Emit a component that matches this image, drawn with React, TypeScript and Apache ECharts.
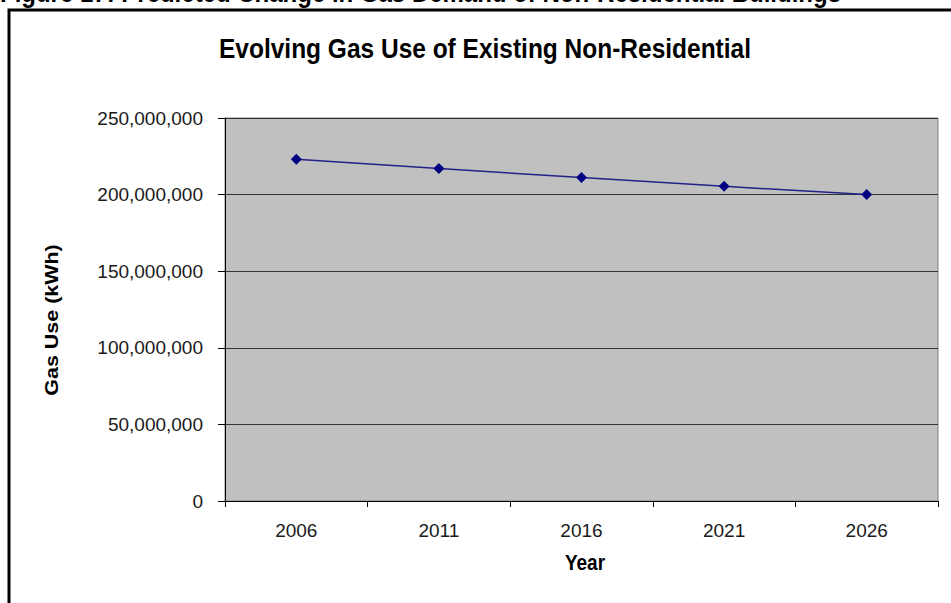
import React, { useEffect, useRef } from "react";
import * as echarts from "echarts";

const years = ["2006", "2011", "2016", "2021", "2026"];
const gasUseKWh = [223000000, 217000000, 211100000, 205400000, 200000000];
const yTicks = { min: 0, max: 250000000, step: 50000000 };

const chartTitle = "Evolving Gas Use of Existing Non-Residential";
const figureCaption = "Figure 17: Predicted Change in Gas Demand of Non-Residential Buildings";
const yAxisName = "Gas Use (kWh)";
const xAxisName = "Year";

const FONT = "'Liberation Sans', Arial, sans-serif";
// Text in this figure is drawn slightly taller than wide
const STRETCH = 1.13;

const formatThousands = (v: number) =>
  String(Math.round(v)).replace(/\B(?=(\d{3})+(?!\d))/g, ",");

export default function App() {
  const ref = useRef<HTMLDivElement>(null);

  useEffect(() => {
    if (!ref.current) return;
    const chart = echarts.init(ref.current, undefined, { renderer: "svg" });
    chart.setOption({
      animation: false,
      backgroundColor: "#ffffff",
      grid: {
        left: 225,
        right: 13,
        top: 118,
        bottom: 102,
        show: true,
        backgroundColor: "#C0C0C0",
        borderColor: "#808080",
        borderWidth: 1,
      },
      xAxis: {
        type: "category",
        data: years,
        boundaryGap: true,
        axisLine: { show: true, lineStyle: { color: "#000000", width: 1 } },
        axisTick: {
          show: true,
          interval: 0,
          length: 6,
          inside: false,
          lineStyle: { color: "#000000" },
        },
        axisLabel: {
          fontFamily: FONT,
          fontSize: 19,
          color: "#1a1a1a",
          margin: 20,
          interval: 0,
        },
        splitLine: { show: false },
      },
      yAxis: {
        type: "value",
        min: yTicks.min,
        max: yTicks.max,
        interval: yTicks.step,
        axisLine: { show: true, lineStyle: { color: "#000000", width: 1 } },
        axisTick: { show: true, length: 7, lineStyle: { color: "#000000" } },
        axisLabel: {
          fontFamily: FONT,
          fontSize: 19,
          color: "#1a1a1a",
          margin: 22,
          formatter: (v: number) => formatThousands(v),
        },
        splitLine: { show: true, lineStyle: { color: "#333333", width: 1 } },
      },
      series: [
        {
          type: "line",
          data: gasUseKWh,
          symbol: "diamond",
          symbolSize: 11,
          itemStyle: { color: "#000080" },
          lineStyle: { color: "#22228a", width: 1.5 },
        },
      ],
      graphic: [
        {
          type: "text",
          x: 0,
          y: 6,
          scaleY: STRETCH,
          style: {
            text: figureCaption,
            font: `bold 24px ${FONT}`,
            fill: "#000000",
            align: "left",
            verticalAlign: "bottom",
          },
        },
        {
          type: "rect",
          shape: { x: 9, y: 10, width: 960, height: 620 },
          style: { fill: "none", stroke: "#000000", lineWidth: 3 },
          silent: true,
        },
        {
          type: "text",
          x: 485,
          y: 48,
          scaleY: STRETCH,
          style: {
            text: chartTitle,
            font: `bold 24.5px ${FONT}`,
            fill: "#000000",
            align: "center",
            verticalAlign: "middle",
          },
        },
        {
          type: "text",
          x: 51,
          y: 320,
          rotation: Math.PI / 2,
          scaleX: STRETCH,
          style: {
            text: yAxisName,
            font: `bold 19px ${FONT}`,
            fill: "#000000",
            align: "center",
            verticalAlign: "middle",
          },
        },
        {
          type: "text",
          x: 585,
          y: 563,
          scaleY: STRETCH,
          style: {
            text: xAxisName,
            font: `bold 19px ${FONT}`,
            fill: "#000000",
            align: "center",
            verticalAlign: "middle",
          },
        },
      ],
    });
    return () => chart.dispose();
  }, []);

  return <div ref={ref} style={{ width: 951, height: 603, position: "absolute", left: 0, top: 0 }} />;
}
